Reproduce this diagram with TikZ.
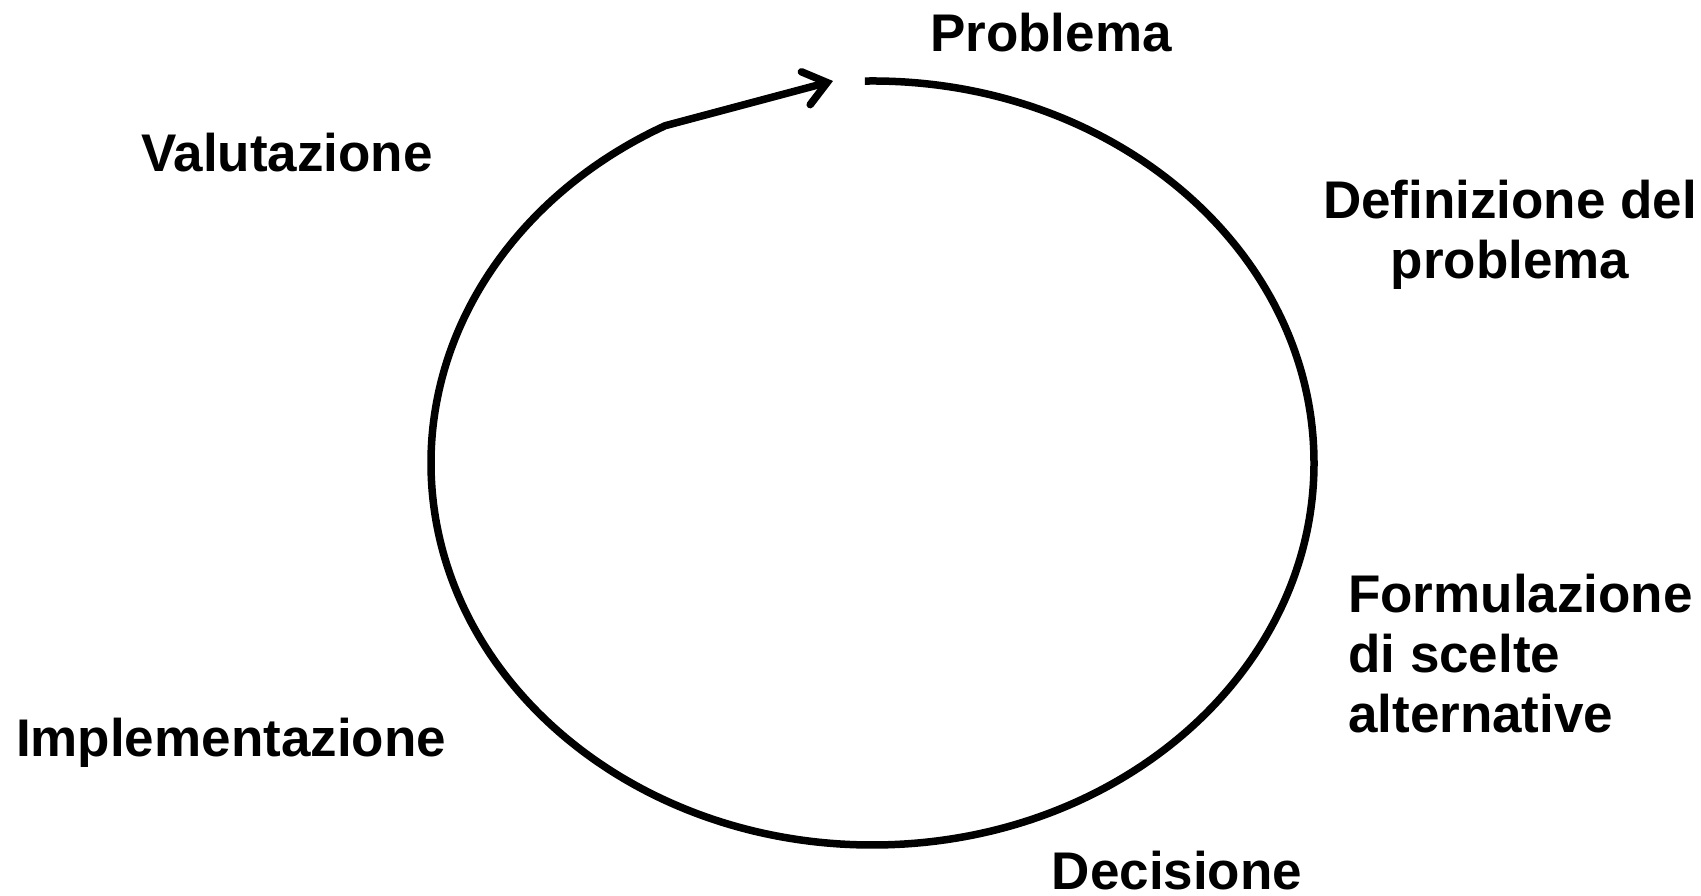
\documentclass[tikz,border=0pt]{standalone}
\usepackage{fontspec}
\setmainfont{Liberation Sans}
\usetikzlibrary{arrows.meta,calc}
\begin{document}
\begin{tikzpicture}[x=1pt,y=1pt,
  lbl/.style={inner sep=0pt, font=\fontsize{53}{60}\selectfont\bfseries},
  cycleline/.style={line width=7.5pt, line join=round}]
\useasboundingbox (0,0) rectangle (1701,896);
% stage labels (multi-line labels are anchored at the baseline of their last line)
\node[lbl, anchor=base] (prob) at (1051,844) {Problema};
\node[lbl, anchor=base, align=center] (defi) at (1510,617) {Definizione del\\problema};
\node[lbl, anchor=base west, align=left] (form) at (1348,163) {Formulazione\\di scelte\\alternative};
\node[lbl, anchor=base] (deci) at (1177,6) {Decisione};
\node[lbl, anchor=base] (impl) at (231,139) {Implementazione};
\node[lbl, anchor=base] (valu) at (287,724) {Valutazione};
% the cycle: clockwise elliptical arc, then a straight run into the arrow tip
\coordinate (ctr) at (872.5,433);
\coordinate (start) at ($(ctr)+(91:441.5 and 382)$);
\coordinate (tip) at (833,815);
\draw[cycleline, -{Straight Barb[length=22pt,width=34pt,line cap=round]}]
  (start) arc[start angle=91, end angle=-242, x radius=441.5, y radius=382] -- (tip);
\end{tikzpicture}
\end{document}
